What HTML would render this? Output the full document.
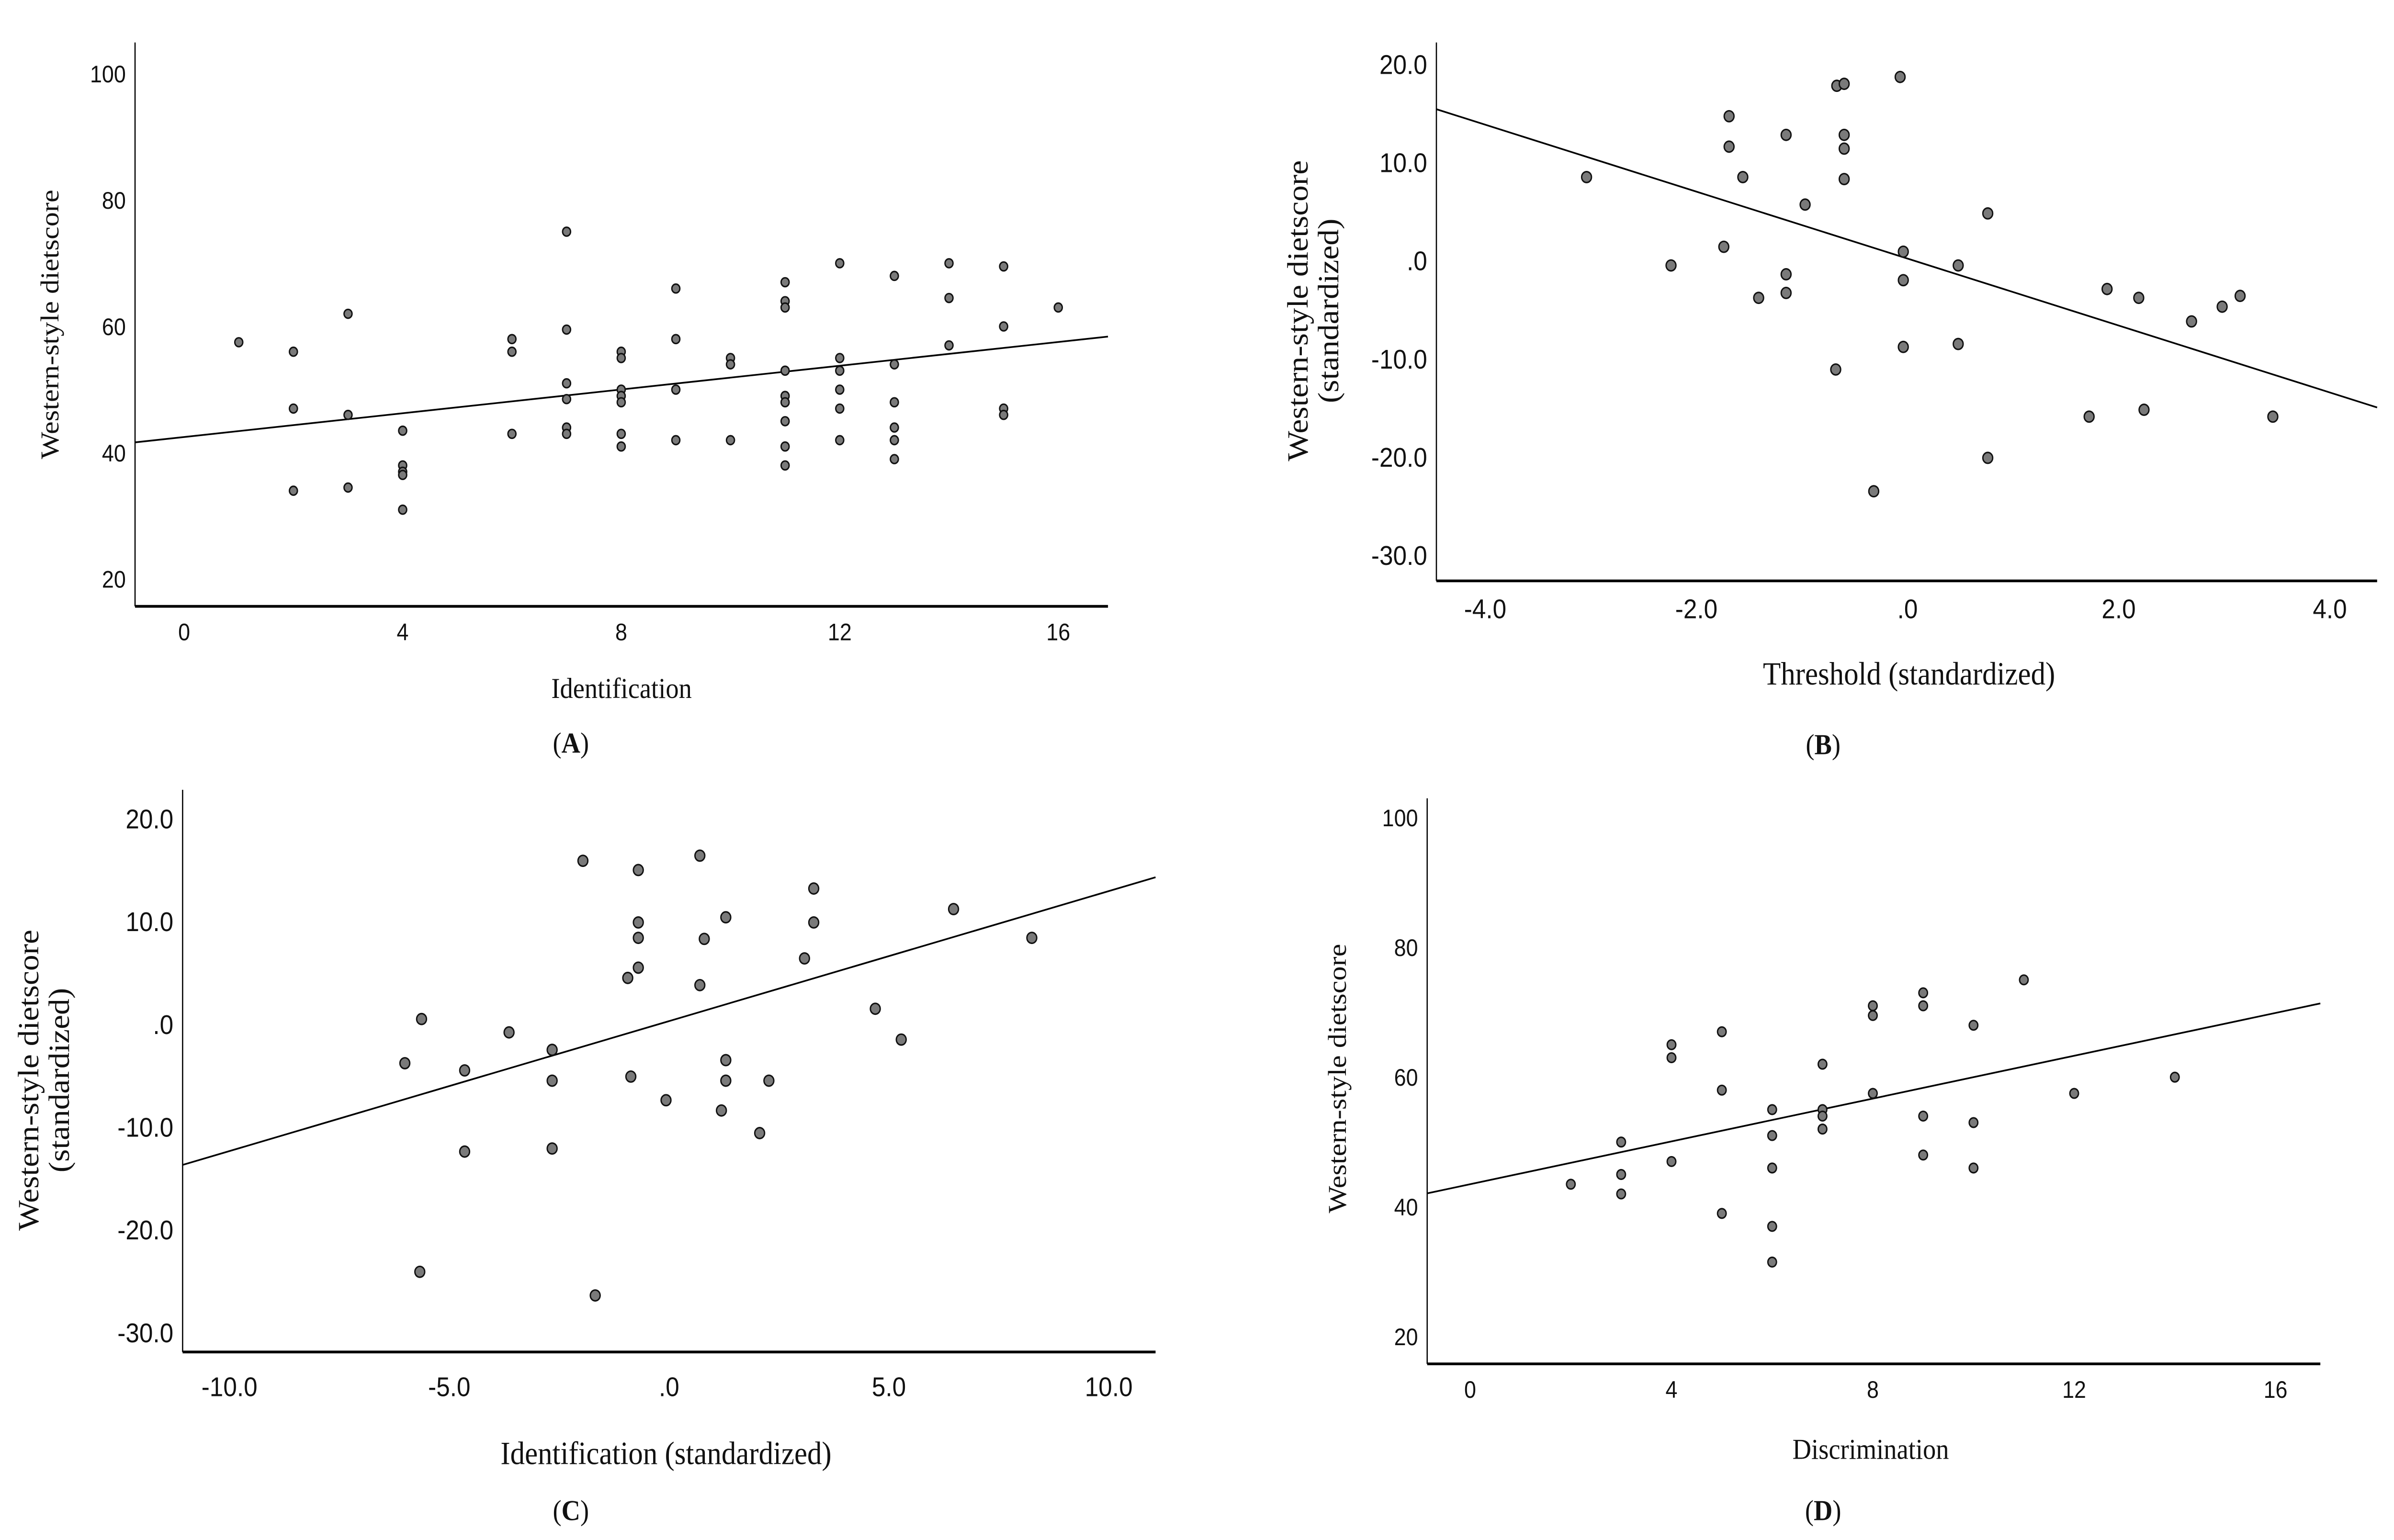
<!DOCTYPE html>
<html><head><meta charset="utf-8">
<style>
html,body{margin:0;padding:0;background:#fff;width:100%;height:100%;overflow:hidden;}
svg{display:block;width:100vw;height:100vh;}
text{font-family:"Liberation Sans",sans-serif;fill:#111;}
.ser{font-family:"Liberation Serif",serif;}
</style></head>
<body>
<svg id="chart" viewBox="0 0 1560 906.7" preserveAspectRatio="none" xmlns="http://www.w3.org/2000/svg"></svg>
<script>
// ---- Panel A data ----
const aX = [1,2,2,2,3,3,3,4,4,4,4,4,6,6,6,7,7,7,7,7,7,8,8,8,8,8,8,8,9,9,9,9,10,10,10,11,11,11,11,11,11,11,11,11,12,12,12,12,12,12,13,13,13,13,13,13,14,14,14,15,15,15,15,16];
const aY = [57.5,56,47,34,62,46,34.5,43.5,38,37,36.5,31,58,56,43,75,59.5,51,48.5,44,43,56,55,50,49,48,43,41,66,58,50,42,55,54,42,67,64,63,53,49,48,45,41,38,70,55,53,50,47,42,68,54,48,44,42,39,70,64.5,57,69.5,60,47,46,63];
const aXTicks = [0,4,8,12,16];
const aYTicks = [20,40,60,80,100];
const aFit = [42.5, 0.94];
// ---- Panel B data ----
const bX = [-3.04,-2.24,-1.69,-1.69,-1.56,-1.74,-1.41,-1.15,-1.15,-1.15,-0.97,-0.67,-0.60,-0.60,-0.60,-0.60,-0.68,-0.32,-0.07,-0.04,-0.04,-0.04,0.48,0.48,0.76,0.76,1.89,1.72,2.19,2.24,2.69,2.98,3.15,3.46];
const bY = [8.5,-0.5,14.7,11.6,8.5,1.4,-3.8,12.8,-1.4,-3.3,5.7,17.8,18.0,12.8,11.4,8.3,-11.1,-23.5,18.7,0.9,-2.0,-8.8,-0.5,-8.5,4.8,-20.1,-2.9,-15.9,-3.8,-15.2,-6.2,-4.7,-3.6,-15.9];
const bXTicks = [-4,-2,0,2,4];
const bYTicks = [-30,-20,-10,0,10,20];
const bFit = [0.2, -3.41];
// ---- Panel C data ----
const cX = [-6.01,-5.63,-5.67,-4.65,-4.65,-3.64,-2.66,-2.66,-2.66,-1.96,-1.68,-0.70,-0.70,-0.70,-0.70,-0.94,-0.87,-0.07,0.70,0.80,0.70,1.19,1.29,1.29,1.29,2.27,2.06,3.08,3.29,3.29,4.69,5.28,6.47,8.25];
const cY = [-3.8,0.5,-24.1,-4.5,-12.4,-0.8,-2.5,-5.5,-12.1,15.9,-26.4,15.0,9.9,8.4,5.5,4.5,-5.1,-7.4,16.4,8.3,3.8,-8.4,-3.5,-5.5,10.4,-5.5,-10.6,6.4,13.2,9.9,1.5,-1.5,11.2,8.4];
const cXTicks = [-10,-5,0,5,10];
const cYTicks = [-30,-20,-10,0,10,20];
const cFit = [0.3, 1.265];
// ---- Panel D data ----
const dX = [2,3,3,3,4,4,4,5,5,5,6,6,6,6,6,7,7,7,7,8,8,8,9,9,9,9,10,10,10,11,12,14];
const dY = [43.5,50,45,42,65,63,47,67,58,39,55,51,46,37,31.5,62,55,54,52,71,69.5,57.5,73,71,54,48,68,53,46,75,57.5,60];
const dXTicks = [0,4,8,12,16];
const dYTicks = [20,40,60,80,100];
const dFit = [43.5, 1.65];

const NS = "http://www.w3.org/2000/svg";
const svg = document.getElementById('chart');
function mk(tag, attrs, parent){const e=document.createElementNS(NS,tag);for(const k in attrs)e.setAttribute(k,attrs[k]);(parent||svg).appendChild(e);return e;}
function fmtStd(v){if(v===0)return '.0';return v.toFixed(1);}

function panel(cfg){
  const g = mk('g',{});
  
  
  const sx = v => cfg.x0px + (v - cfg.x0v) * cfg.xpu;
  const sy = v => cfg.y0px - (v - cfg.y0v) * cfg.ypu;
  const ya = mk('line',{x1:cfg.left,y1:cfg.top,x2:cfg.left,y2:cfg.bottom,stroke:'#000','stroke-width':0.8},g);
  
  
  const xa = mk('line',{x1:cfg.left,y1:cfg.bottom,x2:cfg.right,y2:cfg.bottom,stroke:'#000','stroke-width':1.6},g);
  
  
  cfg.xTicks.forEach(v=>{
    const t = mk('text',{x:sx(v),y:cfg.bottom+cfg.xLabOff,'text-anchor':'middle','font-size':cfg.tfs},g);
    t.textContent = cfg.fmt(v);
    
    
  });
  cfg.yTicks.forEach(v=>{
    const t = mk('text',{x:cfg.left-cfg.yLabOff,y:sy(v)+cfg.tfs*0.36,'text-anchor':'end','font-size':cfg.tfs},g);
    t.textContent = cfg.fmt(v);
    
    
  });
  const xl = (cfg.left - cfg.x0px)/cfg.xpu + cfg.x0v, xr = (cfg.right - cfg.x0px)/cfg.xpu + cfg.x0v;
  const fl = mk('line',{x1:sx(xl),y1:sy(cfg.fit[0]+cfg.fit[1]*xl),x2:sx(xr),y2:sy(cfg.fit[0]+cfg.fit[1]*xr),stroke:'#000','stroke-width':1},g);
  
  
  cfg.xs.forEach((xv,i)=>{
    const c = mk('circle',{cx:sx(xv),cy:sy(cfg.ys[i]),r:cfg.r,fill:'#7a7a7a',stroke:'#111','stroke-width':0.9},g);
    
    
  });
  const xt = mk('text',{x:cfg.xtX,y:cfg.xtY,'text-anchor':'middle','font-size':cfg.titfs,'class':'ser'},g);
  xt.textContent = cfg.xTitle;
  
  
  cfg.yTitle.forEach((line,i)=>{
    const X = cfg.ytX + i*cfg.ytGap;
    const yt = mk('text',{x:X,y:cfg.ytY,'text-anchor':'middle','font-size':cfg.titfs,'class':'ser',transform:`rotate(-90 ${X} ${cfg.ytY})`},g);
    yt.textContent = line;
    
    
  });
  const pl = mk('text',{x:cfg.plX,y:cfg.plY,'text-anchor':'middle','font-size':17,'class':'ser'},g);
  pl.innerHTML = '(<tspan font-weight="bold">'+cfg.letter+'</tspan>)';
  
  
}
const intFmt = v => String(v);

panel({name:'panel-a',xs:aX,ys:aY,xTicks:aXTicks,yTicks:aYTicks,fit:aFit,fmt:intFmt,
  left:88,right:722,top:25,bottom:357,x0px:120,x0v:0,xpu:35.6,y0px:341,y0v:20,ypu:3.72,
  tfs:14,xLabOff:20,yLabOff:6,r:2.6,xTitle:'Identification',xtX:405,xtY:411,yTitle:['Western-style dietscore'],
  ytX:38,ytY:191,ytGap:0,titfs:17,plX:372,plY:443,letter:'A'});
panel({name:'panel-b',xs:bX,ys:bY,xTicks:bXTicks,yTicks:bYTicks,fit:bFit,fmt:fmtStd,
  left:936,right:1549,top:25,bottom:342,x0px:1243,x0v:0,xpu:68.8,y0px:153.4,y0v:0,ypu:5.78,
  tfs:16,xLabOff:22,yLabOff:6,r:3.2,xTitle:'Threshold (standardized)',xtX:1244,xtY:403,yTitle:['Western-style dietscore','(standardized)'],
  ytX:852,ytY:183,ytGap:20,titfs:19,plX:1188,plY:444,letter:'B'});
panel({name:'panel-c',xs:cX,ys:cY,xTicks:cXTicks,yTicks:cYTicks,fit:cFit,fmt:fmtStd,
  left:119,right:753,top:465,bottom:796,x0px:436,x0v:0,xpu:28.65,y0px:603,y0v:0,ypu:6.05,
  tfs:16,xLabOff:26,yLabOff:6,r:3.2,xTitle:'Identification (standardized)',xtX:434,xtY:862,yTitle:['Western-style dietscore','(standardized)'],
  ytX:25,ytY:636,ytGap:20,titfs:19,plX:372,plY:895,letter:'C'});
panel({name:'panel-d',xs:dX,ys:dY,xTicks:dXTicks,yTicks:dYTicks,fit:dFit,fmt:intFmt,
  left:930,right:1512,top:470,bottom:803,x0px:958,x0v:0,xpu:32.8,y0px:787,y0v:20,ypu:3.82,
  tfs:14,xLabOff:20,yLabOff:6,r:2.8,xTitle:'Discrimination',xtX:1219,xtY:859,yTitle:['Western-style dietscore'],
  ytX:877,ytY:635,ytGap:0,titfs:17,plX:1188,plY:895,letter:'D'});
</script>
</body></html>
